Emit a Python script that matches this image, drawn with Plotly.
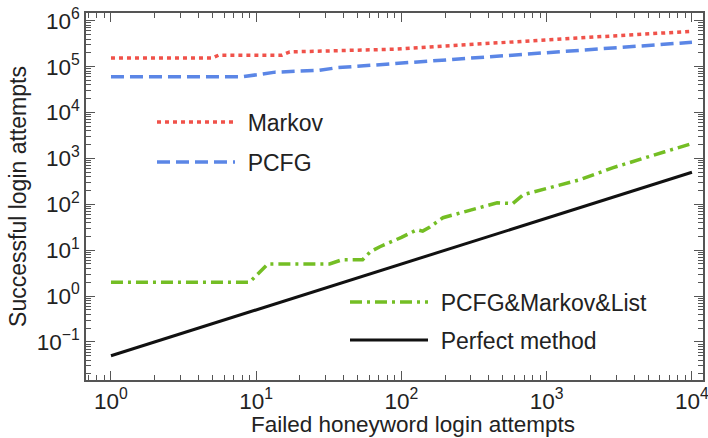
import plotly.graph_objects as go

# ---- data ----
markov_x = [1, 5, 5.5, 15, 17, 90, 1000, 10000]
markov_y = [1.55e5, 1.55e5, 1.78e5, 1.78e5, 2.1e5, 2.4e5, 3.85e5, 5.9e5]

pcfg_x = [1, 8, 13.5, 27, 36, 86, 1000, 10000]
pcfg_y = [6.0e4, 6.0e4, 7.6e4, 8.3e4, 9.5e4, 1.15e5, 2.0e5, 3.4e5]

combo_x = [1, 9, 12, 32, 39, 54, 61, 71, 100, 128, 140, 157, 193, 456, 584, 690, 1700, 2870, 6500, 10000]
combo_y = [2, 2, 5, 5, 6.2, 6.2, 9.2, 11.9, 19, 28, 26, 32, 51, 108, 104, 162, 345, 630, 1400, 2100]

perfect_x = [1, 10000]
perfect_y = [0.05, 500]

y_tick_vals = [1e-1, 1e0, 1e1, 1e2, 1e3, 1e4, 1e5, 1e6]
y_tick_text = ["10<sup>−1</sup>", "10<sup>0</sup>", "10<sup>1</sup>", "10<sup>2</sup>",
               "10<sup>3</sup>", "10<sup>4</sup>", "10<sup>5</sup>", "10<sup>6</sup>"]
x_tick_vals = [1e0, 1e1, 1e2, 1e3, 1e4]
x_tick_text = ["10<sup>0</sup>", "10<sup>1</sup>", "10<sup>2</sup>", "10<sup>3</sup>", "10<sup>4</sup>"]

x_title = "Failed honeyword login attempts"
y_title = "Successful login attempts"

FONT = "Liberation Sans, Arial, sans-serif"
GAP = "\u2004"  # small lead-in gap between legend line and label

fig = go.Figure()
fig.add_trace(go.Scatter(x=markov_x, y=markov_y, mode="lines", name=GAP + "Markov",
                         line=dict(color="#f0524a", width=3.5, dash="4px,4px"), legend="legend"))
fig.add_trace(go.Scatter(x=pcfg_x, y=pcfg_y, mode="lines", name=GAP + "PCFG",
                         line=dict(color="#5b86e6", width=3.5, dash="13px,6px"), legend="legend2"))
fig.add_trace(go.Scatter(x=combo_x, y=combo_y, mode="lines", name=GAP + "PCFG&Markov&List",
                         line=dict(color="#74be24", width=3.5, dash="12px,5px,3px,5px"), legend="legend3"))
fig.add_trace(go.Scatter(x=perfect_x, y=perfect_y, mode="lines", name=GAP + "Perfect method",
                         line=dict(color="#111111", width=3), legend="legend4"))

W, H = 708, 438
L, R, T, B = 86, 5, 13, 58
pw, ph = W - L - R, H - T - B

def px2paper(px, py):
    return (px - L) / pw, (H - B - py) / ph

def leg(px, py):
    x, y = px2paper(px, py)
    return dict(x=x, y=y, xanchor="left", yanchor="middle", bgcolor="rgba(0,0,0,0)",
                borderwidth=0, itemwidth=78, font=dict(family=FONT, size=23, color="#222"))

axis_common = dict(
    type="log", showgrid=False, zeroline=False, showline=True, linecolor="#555",
    linewidth=1.5, mirror="ticks", ticks="inside", ticklen=9, tickwidth=1.2, tickcolor="#555",
    tickfont=dict(family=FONT, size=22.5, color="#222"), ticklabeloverflow="allow",
    minor=dict(ticks="inside", ticklen=5, tickwidth=1, tickcolor="#555", dtick="D1", showgrid=False),
)

xt_x, xt_y = px2paper(413, 424)

fig.update_layout(
    width=W, height=H, margin=dict(l=L, r=R, t=T, b=B),
    paper_bgcolor="white", plot_bgcolor="white",
    font=dict(family=FONT, color="#222"),
    showlegend=True,
    xaxis=dict(axis_common, range=[-0.172, 4.076], tickvals=x_tick_vals, ticktext=x_tick_text,
               automargin=False),
    yaxis=dict(axis_common, range=[-1.83, 6.17], tickvals=y_tick_vals, ticktext=y_tick_text,
               title=dict(text=y_title, font=dict(family=FONT, size=23, color="#222"),
                          standoff=4), automargin=False),
    legend=leg(152, 122),
    legend2=leg(152, 162),
    legend3=leg(345, 302),
    legend4=leg(345, 340),
    annotations=[dict(text=x_title, xref="paper", yref="paper", x=xt_x, y=xt_y,
                      xanchor="center", yanchor="middle", showarrow=False,
                      font=dict(family=FONT, size=22.5, color="#222"))],
)

fig.write_html("out.html", config={"displayModeBar": False},
               post_script="document.body.style.margin='0';document.body.style.overflow='hidden';")
